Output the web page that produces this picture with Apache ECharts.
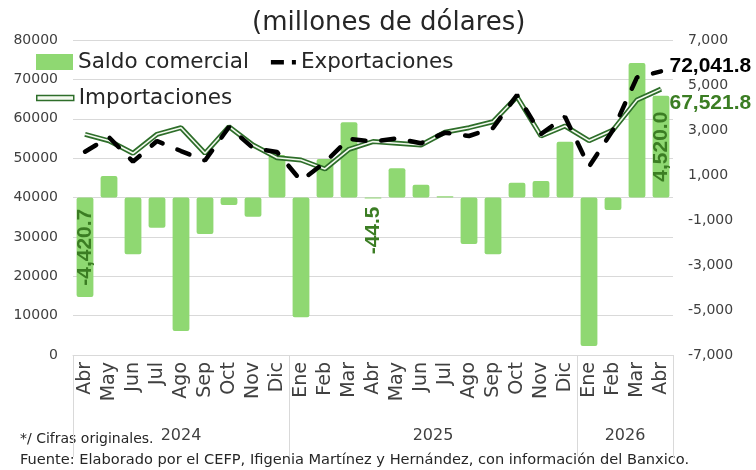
<!DOCTYPE html>
<html>
<head>
<meta charset="utf-8">
<script src="https://cdn.jsdelivr.net/npm/echarts@6/dist/echarts.min.js"></script>
<style>
  html, body { margin: 0; padding: 0; background: #fff; }
  #balanzaChart { width: 756px; height: 470px; }
</style>
</head>
<body>
<div id="balanzaChart"></div>
<script>
// datos (millones de dólares)
var meses = ["Abr", "May", "Jun", "Jul", "Ago", "Sep", "Oct", "Nov", "Dic",
  "Ene", "Feb", "Mar", "Abr", "May", "Jun", "Jul", "Ago", "Sep", "Oct", "Nov", "Dic",
  "Ene", "Feb", "Mar", "Abr"];
var anios = ["2024", "2025", "2026"];
var mesesPorAnio = [9, 12, 4];

var exportaciones = [51630, 55300, 49100, 54350, 51800, 49400, 57900, 52570, 51550,
  44270, 48940, 54930, 54150, 55030, 53760, 56470, 55620, 57650, 66030, 56130, 60520,
  47820, 57140, 70520, 72041.8];
var importaciones = [56050, 54400, 51220, 56050, 57730, 51220, 57980, 53330, 50100,
  49520, 47240, 52240, 54195, 53760, 53330, 56560, 57730, 59250, 65600, 55620, 58160,
  54430, 57140, 64760, 67521.8];
var saldo = [-4420.7, 955, -2525, -1340, -5930, -1620, -335, -850, 1890,
  -5325, 1710, 3340, -44.5, 1295, 570, 60, -2065, -2525, 660, 735, 2480,
  -6600, -555, 5980, 4520.0];
var saldoConEtiqueta = [0, 12, 24];

var ticksIzq = { min: 0, max: 80000, interval: 10000 };
var ticksDer = { min: -7000, max: 7000, interval: 2000 };

var verde = "#8fd872";
var verdeOscuro = "#2e6e2a";
var verdeTexto = "#3b7d23";
var fuente = "DejaVu Sans";
var fuenteEtiqueta = "Liberation Sans";

function fmt1(v) {
  return v.toLocaleString("en-US", { minimumFractionDigits: 1, maximumFractionDigits: 1 });
}

// bordes y centros de cada año sobre el eje de categorías
var bordes = [0];
var centros = [];
mesesPorAnio.forEach(function (n, i) {
  centros.push(bordes[i] + n / 2);
  bordes.push(bordes[i] + n);
});
function anioDe(v) {
  for (var i = 0; i < centros.length; i++) {
    if (Math.abs(centros[i] - v) < 0.01) return anios[i];
  }
  return "";
}

var ultimo = meses.length - 1;

var datosSaldo = saldo.map(function (v, i) {
  if (saldoConEtiqueta.indexOf(i) < 0) return v;
  var lbl = {
    show: true,
    rotate: 90,
    formatter: fmt1(v),
    color: verdeTexto,
    fontFamily: fuenteEtiqueta,
    fontWeight: "bold",
    fontSize: 21
  };
  if (Math.abs(v) < 500) {
    lbl.position = "bottom";
    lbl.align = "right";
    lbl.verticalAlign = "middle";
    lbl.distance = 8;
  } else {
    lbl.position = "inside";
  }
  return { value: v, label: lbl };
});

function conEtiquetaFinal(arr, color, offset) {
  return arr.map(function (v, i) {
    if (i !== ultimo) return v;
    return {
      value: v,
      symbol: "circle",
      symbolSize: 1,
      label: {
        show: true,
        position: "right",
        distance: 8,
        offset: offset,
        formatter: fmt1(v),
        color: color,
        fontFamily: fuenteEtiqueta,
        fontWeight: "bold",
        fontSize: 21
      }
    };
  });
}

var myChart = echarts.init(document.getElementById("balanzaChart"));

var option = {
  backgroundColor: "#fff",
  animation: false,
  title: {
    text: "(millones de dólares)",
    left: 247,
    top: 5,
    textStyle: { fontFamily: fuente, fontSize: 26, fontWeight: "normal", color: "#262626" }
  },
  legend: [
    {
      left: 36,
      top: 51,
      padding: 0,
      itemWidth: 37,
      itemHeight: 16,
      itemGap: 10,
      selectedMode: false,
      textStyle: { fontFamily: fuente, fontSize: 21.5, color: "#262626" },
      data: [
        { name: "Saldo comercial", icon: "rect", itemStyle: { color: verde, borderWidth: 0 } },
        {
          name: "Exportaciones",
          icon: "path://M0,0 M37,16 M12,6 L25,6 L25,10.5 L12,10.5 Z M33,6 L37,6 L37,10.5 L33,10.5 Z",
          itemStyle: { color: "#000", borderWidth: 0 }
        }
      ]
    },
    {
      left: 36,
      top: 87,
      padding: 0,
      itemWidth: 37,
      itemHeight: 5,
      selectedMode: false,
      textStyle: { fontFamily: fuente, fontSize: 21.5, color: "#262626" },
      data: [
        {
          name: "Importaciones",
          icon: "rect",
          itemStyle: { color: "#f4faf0", borderColor: verdeOscuro, borderWidth: 1.5 }
        }
      ]
    }
  ],
  grid: { left: 73, right: 83, top: 40, bottom: 115 },
  xAxis: [
    {
      type: "category",
      data: meses,
      axisLine: { lineStyle: { color: "#d9d9d9" } },
      // separadores entre años
      axisTick: {
        show: true,
        interval: function (index) { return bordes.indexOf(index) >= 0; },
        length: 102,
        lineStyle: { color: "#d9d9d9" }
      },
      axisLabel: {
        interval: 0,
        rotate: 90,
        margin: 7,
        fontFamily: fuente,
        fontSize: 19,
        color: "#404040"
      }
    },
    {
      // fila de años
      type: "value",
      position: "bottom",
      min: 0,
      max: meses.length,
      axisLine: { show: false },
      splitLine: { show: false },
      axisTick: { show: false },
      axisLabel: {
        customValues: centros,
        formatter: anioDe,
        margin: 73,
        fontFamily: fuente,
        fontSize: 16,
        color: "#404040"
      }
    }
  ],
  yAxis: [
    {
      type: "value",
      position: "left",
      min: ticksIzq.min,
      max: ticksIzq.max,
      interval: ticksIzq.interval,
      axisLine: { show: false },
      axisTick: { show: false },
      splitLine: { lineStyle: { color: "#d9d9d9" } },
      axisLabel: {
        formatter: function (v) { return String(v); },
        margin: 15,
        fontFamily: fuente,
        fontSize: 14,
        color: "#404040"
      }
    },
    {
      type: "value",
      position: "right",
      min: ticksDer.min,
      max: ticksDer.max,
      interval: ticksDer.interval,
      axisLine: { show: false },
      axisTick: { show: false },
      splitLine: { show: false },
      axisLabel: {
        formatter: function (v) { return v.toLocaleString("en-US"); },
        margin: 15,
        fontFamily: fuente,
        fontSize: 14,
        color: "#404040"
      }
    }
  ],
  series: [
    {
      name: "Saldo comercial",
      type: "bar",
      yAxisIndex: 1,
      barWidth: "70%",
      itemStyle: { color: verde, borderRadius: 2 },
      data: datosSaldo
    },
    {
      name: "Importaciones",
      type: "line",
      symbol: "none",
      lineStyle: { color: verdeOscuro, width: 5 },
      itemStyle: { color: verdeOscuro },
      data: conEtiquetaFinal(importaciones, verdeTexto, [0, 14])
    },
    {
      // línea interior clara de la doble línea
      name: "importaciones-interior",
      type: "line",
      symbol: "none",
      silent: true,
      lineStyle: { color: "#f4faf0", width: 1.6 },
      data: importaciones
    },
    {
      name: "Exportaciones",
      type: "line",
      symbol: "none",
      lineStyle: { color: "#000", width: 4.5, type: [13, 16], cap: "round" },
      itemStyle: { color: "#000" },
      data: conEtiquetaFinal(exportaciones, "#000", [0, -5])
    }
  ],
  graphic: [
    {
      type: "text",
      left: 20,
      top: 432,
      style: { text: "*/ Cifras originales.", font: "14px 'DejaVu Sans'", fill: "#262626" }
    },
    {
      type: "text",
      left: 20,
      top: 453,
      style: {
        text: "Fuente: Elaborado por el CEFP, Ifigenia Martínez y Hernández, con información del Banxico.",
        font: "14.6px 'DejaVu Sans'",
        fill: "#262626"
      }
    }
  ]
};

myChart.setOption(option);
</script>
</body>
</html>
